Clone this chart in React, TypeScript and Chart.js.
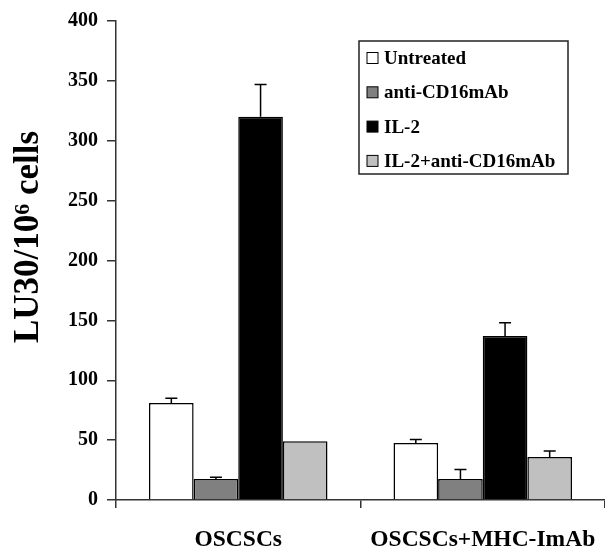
import React, { useEffect, useRef } from "react";
import { Chart, registerables } from "chart.js";

Chart.register(...registerables);

const categories = ["OSCSCs", "OSCSCs+MHC-ImAb"];
const seriesLabels = ["Untreated", "anti-CD16mAb", "IL-2", "IL-2+anti-CD16mAb"];
const untreated = [81, 47.5];
const antiCD16 = [17.5, 17.5];
const il2 = [320, 137];
const il2AntiCD16 = [49, 36];
const untreatedErr = [4, 3];
const antiCD16Err = [1.5, 8];
const il2Err = [27, 11];
const il2AntiCD16Err = [0, 5];
const yTicks = [0, 50, 100, 150, 200, 250, 300, 350, 400];
const yTitleParts = ["LU30/10", "6", " cells"];

const colors = ["#FFFFFF", "#808080", "#000000", "#C0C0C0"];
const FONT = "'Liberation Serif', 'Times New Roman', serif";

const errorBarsPlugin = {
  id: "errorBars",
  afterDatasetsDraw(chart: any) {
    const ctx = chart.ctx;
    const y = chart.scales.y;
    chart.data.datasets.forEach((ds: any, i: number) => {
      const meta = chart.getDatasetMeta(i);
      meta.data.forEach((bar: any, j: number) => {
        const err = ds.errors ? ds.errors[j] : 0;
        if (!err) return;
        const top = y.getPixelForValue(ds.data[j] + err);
        ctx.save();
        ctx.strokeStyle = "#000";
        ctx.lineWidth = 1.5;
        ctx.beginPath();
        ctx.moveTo(bar.x, bar.y);
        ctx.lineTo(bar.x, top);
        ctx.moveTo(bar.x - 6, top);
        ctx.lineTo(bar.x + 6, top);
        ctx.stroke();
        ctx.restore();
      });
    });
  },
};

const customLegendPlugin = {
  id: "customLegend",
  afterDraw(chart: any) {
    const ctx = chart.ctx;
    const bx = 359, by = 41, bw = 209, bh = 133;
    ctx.save();
    ctx.fillStyle = "#fff";
    ctx.fillRect(bx, by, bw, bh);
    ctx.strokeStyle = "#222";
    ctx.lineWidth = 1.5;
    ctx.strokeRect(bx, by, bw, bh);
    ctx.font = `bold 19px ${FONT}`;
    ctx.textBaseline = "middle";
    ctx.textAlign = "left";
    chart.data.datasets.forEach((ds: any, i: number) => {
      const cy = 58 + i * 34.3;
      ctx.fillStyle = ds.backgroundColor;
      ctx.fillRect(367, cy - 5.5, 11, 11);
      ctx.strokeStyle = "#000";
      ctx.lineWidth = 1;
      ctx.strokeRect(367, cy - 5.5, 11, 11);
      ctx.fillStyle = "#000";
      ctx.fillText(ds.label, 384, cy + 1);
    });
    ctx.restore();
  },
};

const yTitlePlugin = {
  id: "yTitle",
  afterDraw(chart: any) {
    const ctx = chart.ctx;
    const mainFont = `bold 35px ${FONT}`;
    const supFont = `bold 22px ${FONT}`;
    ctx.save();
    ctx.translate(38, 237);
    ctx.rotate(-Math.PI / 2);
    ctx.fillStyle = "#000";
    ctx.textAlign = "left";
    ctx.textBaseline = "alphabetic";
    ctx.font = mainFont;
    const w0 = ctx.measureText(yTitleParts[0]).width;
    const w2 = ctx.measureText(yTitleParts[2]).width;
    ctx.font = supFont;
    const w1 = ctx.measureText(yTitleParts[1]).width;
    let x = -(w0 + w1 + w2) / 2;
    ctx.font = mainFont;
    ctx.fillText(yTitleParts[0], x, 0);
    x += w0;
    ctx.font = supFont;
    ctx.fillText(yTitleParts[1], x, -9);
    x += w1;
    ctx.font = mainFont;
    ctx.fillText(yTitleParts[2], x, 0);
    ctx.restore();
  },
};

export default function App() {
  const canvasRef = useRef<HTMLCanvasElement | null>(null);

  useEffect(() => {
    if (!canvasRef.current) return;
    const values = [untreated, antiCD16, il2, il2AntiCD16];
    const errs = [untreatedErr, antiCD16Err, il2Err, il2AntiCD16Err];
    const chart = new Chart(canvasRef.current, {
      type: "bar",
      data: {
        labels: categories,
        datasets: seriesLabels.map((label, i) => ({
          label,
          data: values[i],
          errors: errs[i],
          backgroundColor: colors[i],
          borderColor: "#000",
          borderWidth: 1.5,
          categoryPercentage: 0.73,
          barPercentage: 1.0,
        })) as any,
      },
      options: {
        animation: false,
        responsive: true,
        maintainAspectRatio: false,
        layout: { padding: { top: 18, right: 0, left: 0, bottom: 0 } },
        plugins: {
          legend: { display: false },
          tooltip: { enabled: false },
        },
        scales: {
          x: {
            offset: true,
            grid: {
              offset: true,
              drawOnChartArea: false,
              drawTicks: true,
              tickLength: 8,
              tickColor: "#333",
              lineWidth: 1.5,
            },
            border: { display: true, color: "#333", width: 1.5 },
            ticks: {
              color: "#000",
              font: { family: FONT, size: 23.5, weight: "bold" },
              padding: 18,
              maxRotation: 0,
            },
            afterFit(scale: any) {
              scale.height = 52;
              scale.paddingLeft = 0;
              scale.paddingRight = 0;
            },
          },
          y: {
            min: 0,
            max: 400,
            afterBuildTicks(scale: any) {
              scale.ticks = yTicks.map((v) => ({ value: v }));
            },
            grid: {
              drawOnChartArea: false,
              drawTicks: true,
              tickLength: 9,
              tickColor: "#333",
              lineWidth: 1.5,
            },
            border: { display: true, color: "#333", width: 1.5 },
            ticks: {
              color: "#000",
              font: { family: FONT, size: 20, weight: "bold" },
              padding: 9,
            },
            afterFit(scale: any) {
              scale.width = 116;
            },
          },
        },
      },
      plugins: [errorBarsPlugin, customLegendPlugin, yTitlePlugin],
    });
    return () => chart.destroy();
  }, []);

  return (
    <div
      style={{
        position: "absolute",
        left: 0,
        top: 0,
        width: 605,
        height: 552,
        background: "#fff",
      }}
    >
      <canvas ref={canvasRef} />
    </div>
  );
}
